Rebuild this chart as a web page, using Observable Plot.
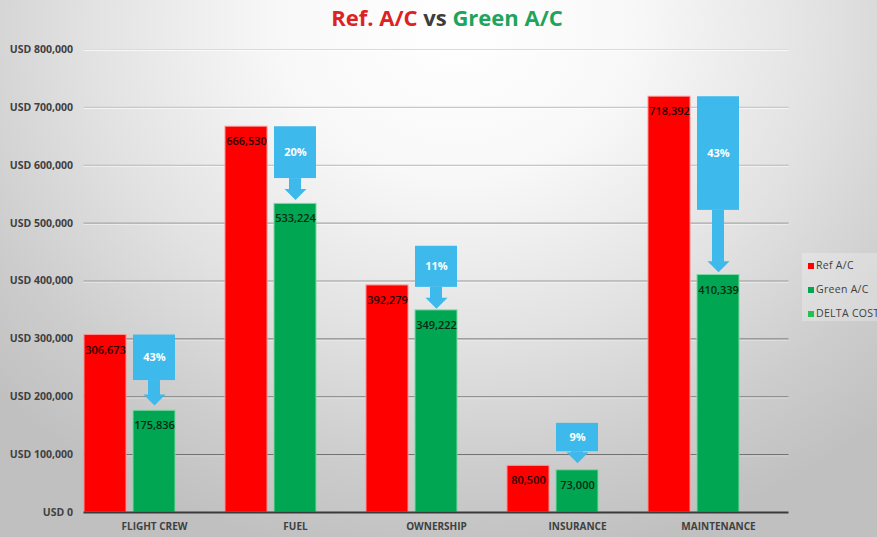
<!DOCTYPE html>
<html>
<head>
<meta charset="utf-8">
<script src="https://cdn.jsdelivr.net/npm/d3@7"></script>
<script src="https://cdn.jsdelivr.net/npm/@observablehq/plot@0.6"></script>
<style>
  html, body { margin: 0; padding: 0; }
  body {
    width: 877px; height: 537px; overflow: hidden; position: relative;
    font-family: "Open Sans", sans-serif;
    background: radial-gradient(ellipse 72% 100% at 52% 5%, #ffffff 0%, #f8f8f8 28%, #e2e2e2 58%, #cdcdcd 82%, #c0c0c0 100%);
  }
  #title {
    position: absolute; left: 0; width: 894px; top: 2px; text-align: center;
    font-weight: 700; font-size: 22px; white-space: nowrap; line-height: 30px;
  }
  #title .r { color: #dc2222; }
  #title .v { color: #3d3d3d; }
  #title .g { color: #1ea45c; }
  #chart { position: absolute; left: 0; top: 0; }
  #legend {
    position: absolute; left: 802px; top: 253px; width: 90px; height: 68px;
    background: rgba(255,255,255,0.25); font-size: 10.5px; color: #404040; white-space: nowrap;
    letter-spacing: 0.3px;
  }
  #legend .item { position: absolute; left: 6px; height: 14px; line-height: 14px; }
  #legend .sw { display: inline-block; width: 6px; height: 6px; margin-right: 2px; vertical-align: 0px; }
</style>
</head>
<body>
<div id="chart"></div>
<div id="title"><span class="r">Ref. A/C</span> <span class="v">vs</span> <span class="g">Green A/C</span></div>
<div id="legend"></div>
<script>
const categories = ["FLIGHT CREW", "FUEL", "OWNERSHIP", "INSURANCE", "MAINTENANCE"];
const refValues = [306673, 666530, 392279, 80500, 718392];
const greenValues = [175836, 533224, 349222, 73000, 410339];
const deltaLabels = ["43%", "20%", "11%", "9%", "43%"];
// blue callout arrows (in USD)
const calloutTop = [306673, 666530, 460000, 154000, 718392];
const calloutBottom = [228000, 577000, 389000, 105000, 522000];
const arrowTip = [185000, 540000, 352000, 85000, 415000];
const yTicks = [0, 100000, 200000, 300000, 400000, 500000, 600000, 700000, 800000];
const seriesNames = ["Ref A/C", "Green A/C", "DELTA COST"];

const RED = "#ff0000", GREEN = "#00a651", BLUE = "#3db9ec", DELTA = "#22c24c";

const rows = categories.map((c, i) => ({
  category: c, ref: refValues[i], green: greenValues[i], pct: deltaLabels[i],
  top: calloutTop[i], bottom: calloutBottom[i], tip: arrowTip[i]
}));

const downTriangle = {
  draw(ctx) { ctx.moveTo(0, 0); ctx.lineTo(-11, -11); ctx.lineTo(11, -11); ctx.closePath(); }
};
const fmt = d3.format(",");
const gridColor = d3.interpolateRgb("#6a6a6a", "#dadada");

const chart = Plot.plot({
  width: 877, height: 537,
  marginLeft: 83.5, marginRight: 88.5, marginTop: 49, marginBottom: 25,
  style: { background: "transparent", fontFamily: "Open Sans, sans-serif" },
  x: { type: "band", domain: categories, paddingInner: 0.702, paddingOuter: 0.351, axis: null },
  y: { domain: [0, 800000], axis: null },
  marks: [
    Plot.ruleY(yTicks.filter(d => d > 0), { dy: 1, stroke: "#ffffff", strokeOpacity: 0.7 }),
    Plot.ruleY(yTicks.filter(d => d > 0), { stroke: d => gridColor(Math.pow(d / 800000, 1.3)), strokeWidth: 1.2 }),
    Plot.barY(rows, { x: "category", y: "ref", fill: RED, dx: -49, stroke: "#ff9090", strokeWidth: 1 }),
    Plot.barY(rows, { x: "category", y: "green", fill: GREEN, stroke: "#80d8a4", strokeWidth: 1 }),
    Plot.ruleY([0], { stroke: "#3a3a3a", strokeWidth: 2 }),
    Plot.text(rows, { x: "category", y: "ref", text: d => fmt(d.ref), dx: -49, dy: 15, fontSize: 11, fontWeight: 600, fill: "#2a0000" }),
    Plot.text(rows, { x: "category", y: "green", text: d => fmt(d.green), dy: 15, fontSize: 11, fontWeight: 600, fill: "#062a12" }),
    Plot.barY(rows, { x: "category", y1: "top", y2: "bottom", fill: BLUE }),
    Plot.barY(rows, { x: "category", y1: "bottom", y2: "tip", fill: BLUE, insetLeft: 15, insetRight: 15, insetBottom: 10 }),
    Plot.dot(rows, { x: "category", y: "tip", symbol: downTriangle, fill: BLUE, stroke: "none" }),
    Plot.text(rows, { x: "category", y: d => (d.top + d.bottom) / 2, text: "pct", fill: "white", fontSize: 11, fontWeight: 700 }),
    Plot.axisY({ ticks: yTicks, tickFormat: d => "USD " + fmt(d), tickSize: 0, tickPadding: 11, fontSize: 10.5, fontWeight: 700, color: "#404040", label: null }),
    Plot.axisX({ tickSize: 0, tickPadding: 10, fontSize: 10, fontWeight: 700, color: "#404040", label: null })
  ]
});
document.getElementById("chart").appendChild(chart);

const legend = document.getElementById("legend");
const legendColors = [RED, GREEN, DELTA];
seriesNames.forEach((name, i) => {
  const item = document.createElement("div");
  item.className = "item";
  item.style.top = (5 + i * 24) + "px";
  item.innerHTML = `<span class="sw" style="background:${legendColors[i]}"></span>${name}`;
  legend.appendChild(item);
});
</script>
</body>
</html>
